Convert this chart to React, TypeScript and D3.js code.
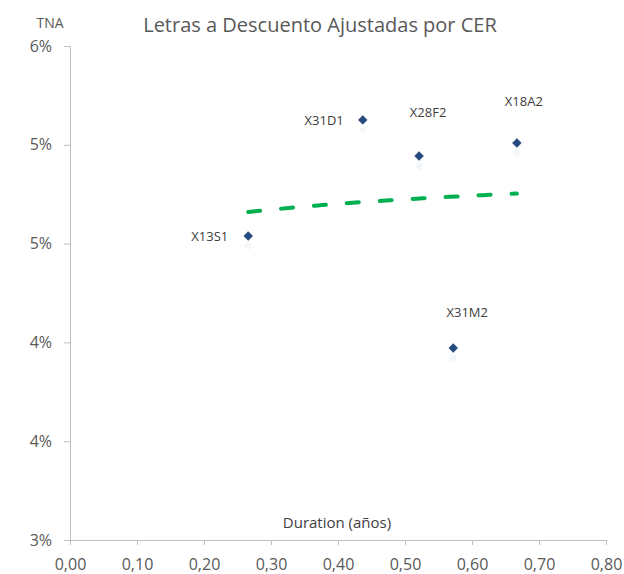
import React, { useEffect, useRef } from 'react';
import * as d3 from 'd3';

// Letras CER: duration (años) vs TNA (%)
const tickers = ['X13S1', 'X31D1', 'X28F2', 'X18A2', 'X31M2'];
const duration = [0.266, 0.437, 0.521, 0.667, 0.572];
const tna = [4.846, 5.551, 5.332, 5.411, 4.166];
const yTicks = [3.0, 3.6, 4.2, 4.8, 5.4, 6.0];
const xTicks = [0, 0.1, 0.2, 0.3, 0.4, 0.5, 0.6, 0.7, 0.8];

// label placement, as in the original (left of the marker or above it)
const labelPos: { anchor: string; dx: number; dy: number }[] = [
  { anchor: 'end', dx: -20, dy: 5 },
  { anchor: 'end', dx: -19, dy: 5 },
  { anchor: 'middle', dx: 9, dy: -39 },
  { anchor: 'middle', dx: 7, dy: -37 },
  { anchor: 'middle', dx: 14, dy: -31 },
];

const W = 624;
const H = 574;
const FONT = '"Open Sans", "Noto Sans", sans-serif';

const App = () => {
  const ref = useRef<SVGSVGElement | null>(null);

  useEffect(() => {
    document.body.style.margin = '0';
    document.body.style.overflow = 'hidden';
    if (!ref.current) return;
    const svg = d3.select(ref.current);
    svg.selectAll('*').remove();

    const x = d3.scaleLinear().domain([0, 0.8]).range([70, 606]);
    const y = d3.scaleLinear().domain([3, 6]).range([540, 46]);

    // title + axis titles
    svg.append('text')
      .attr('x', 320).attr('y', 32)
      .attr('text-anchor', 'middle')
      .attr('font-family', FONT).attr('font-size', 20)
      .attr('fill', '#595959')
      .text('Letras a Descuento Ajustadas por CER');

    svg.append('text')
      .attr('x', 50).attr('y', 28)
      .attr('text-anchor', 'middle')
      .attr('font-family', FONT).attr('font-size', 14)
      .attr('fill', '#595959')
      .text('TNA');

    svg.append('text')
      .attr('x', 337).attr('y', 528)
      .attr('text-anchor', 'middle')
      .attr('font-family', FONT).attr('font-size', 15)
      .attr('fill', '#404040')
      .text('Duration (años)');

    // axes
    const yAxis = svg.append('g')
      .attr('transform', 'translate(70,0)')
      .call(d3.axisLeft(y).tickValues(yTicks).tickSize(6).tickPadding(12)
        .tickFormat((d) => `${Math.round(+d)}%`));
    const xAxis = svg.append('g')
      .attr('transform', 'translate(0,540)')
      .call(d3.axisBottom(x).tickValues(xTicks).tickSize(5).tickPadding(14)
        .tickFormat((d) => d3.format('.2f')(+d).replace('.', ',')));

    [yAxis, xAxis].forEach((g) => {
      g.select('.domain').attr('stroke', '#BFBFBF');
      g.selectAll('line').attr('stroke', '#BFBFBF');
      g.selectAll('text')
        .attr('font-family', FONT).attr('font-size', 16)
        .attr('fill', '#595959');
    });

    // logarithmic trend line fitted to the points
    const lx = duration.map((d) => Math.log(d));
    const mx = d3.mean(lx) ?? 0;
    const my = d3.mean(tna) ?? 0;
    const sxy = d3.sum(lx, (v, i) => (v - mx) * (tna[i] - my));
    const sxx = d3.sum(lx, (v) => (v - mx) ** 2);
    const b = sxy / sxx;
    const a = my - b * mx;
    const [x0, x1] = d3.extent(duration) as [number, number];
    const trendX = d3.range(0, 41).map((i) => x0 + ((x1 - x0) * i) / 40);

    svg.append('path')
      .datum(trendX)
      .attr('d', d3.line<number>()
        .x((d) => x(d))
        .y((d) => y(a + b * Math.log(d))))
      .attr('fill', 'none')
      .attr('stroke', '#00B050')
      .attr('stroke-width', 4)
      .attr('stroke-linecap', 'round')
      .attr('stroke-dasharray', '12,21');

    // markers
    const sym = d3.symbol().type(d3.symbolDiamond2).size(50);
    const pts = svg.append('g');
    tickers.forEach((t, i) => {
      const px = x(duration[i]);
      const py = y(tna[i]);
      pts.append('path')
        .attr('d', sym() as string)
        .attr('transform', `translate(${px},${py + 10})`)
        .attr('fill', '#D5DEEB').attr('opacity', 0.25);
      pts.append('path')
        .attr('d', sym() as string)
        .attr('transform', `translate(${px},${py})`)
        .attr('fill', '#244A80').attr('stroke', '#1C3E6E').attr('stroke-width', 0.5);

      const lp = labelPos[i];
      pts.append('text')
        .attr('x', px + lp.dx)
        .attr('y', py + lp.dy)
        .attr('text-anchor', lp.anchor)
        .attr('font-family', FONT).attr('font-size', 13)
        .attr('fill', '#404040')
        .text(t);
    });
  }, []);

  return <svg ref={ref} width={W} height={H} style={{ display: 'block' }} />;
};

export default App;
